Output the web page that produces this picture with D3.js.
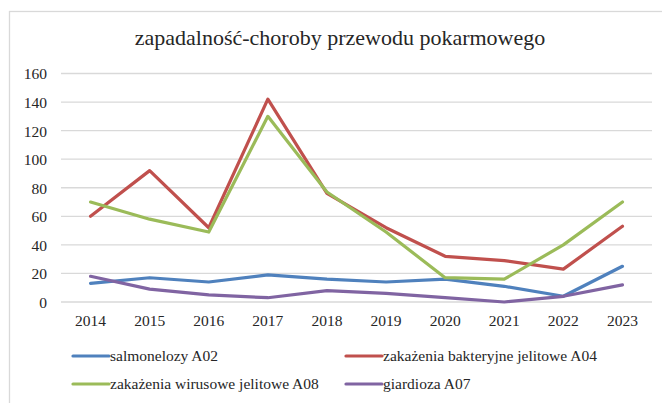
<!DOCTYPE html>
<html>
<head>
<meta charset="utf-8">
<script src="https://cdn.jsdelivr.net/npm/d3@7"></script>
</head>
<body style="margin:0">
<svg id="chart" width="662" height="403"></svg>
<script>
const title = "zapadalność-choroby przewodu pokarmowego";
const years = ["2014","2015","2016","2017","2018","2019","2020","2021","2022","2023"];
const yTicks = [0,20,40,60,80,100,120,140,160];
const seriesNames = ["salmonelozy A02","zakażenia bakteryjne jelitowe A04","zakażenia wirusowe jelitowe A08","giardioza A07"];
const salmonelozy = [13,17,14,19,16,14,16,11,4,25];
const bakteryjne = [60,92,52,142,76,52,32,29,23,53];
const wirusowe = [70,58,49,130,77,49,17,16,40,70];
const giardioza = [18,9,5,3,8,6,3,0,4,12];
const colors = ["#4F81BD","#C0504D","#9BBB59","#8064A2"];

const series = [salmonelozy, bakteryjne, wirusowe, giardioza];
const svg = d3.select("#chart");
const FONT = '"Liberation Serif"';
const TXT = "#262626";

// outer frame
svg.append("rect").attr("x",9.5).attr("y",11.5).attr("width",700).attr("height",420)
  .attr("fill","#fff").attr("stroke","#d9d9d9").attr("stroke-width",1.3);

const pLeft = 61, pRight = 652, pTop = 73.5, pBottom = 302;
const x = d3.scaleBand().domain(years).range([pLeft,pRight]);
const y = d3.scaleLinear().domain([0,160]).range([pBottom,pTop]);

svg.append("text").attr("x",340).attr("y",45).attr("text-anchor","middle")
  .style("font-family",FONT).style("font-size","22px").style("fill",TXT).text(title);

// gridlines
svg.append("g").selectAll("line").data(yTicks).join("line")
  .attr("x1",pLeft).attr("x2",pRight)
  .attr("y1",d=>y(d)).attr("y2",d=>y(d))
  .attr("stroke","#d9d9d9").attr("stroke-width",1.3);

// y axis
const yAxis = d3.axisLeft(y).tickValues(yTicks).tickSize(0).tickPadding(0);
const gy = svg.append("g").attr("transform",`translate(${pLeft-14},0)`).call(yAxis);
gy.select(".domain").remove();
gy.attr("font-family",null).attr("font-size",null);
gy.selectAll("text").style("font-family",FONT).style("font-size","15.5px").style("fill",TXT).attr("dy","0.35em");

// x axis
const xAxis = d3.axisBottom(x).tickSize(0).tickPadding(0);
const gx = svg.append("g").attr("transform",`translate(0,${pBottom+13})`).call(xAxis);
gx.select(".domain").remove();
gx.attr("font-family",null).attr("font-size",null);
gx.selectAll("text").style("font-family",FONT).style("font-size","15.5px").style("fill",TXT).attr("dy","0.71em");

const line = d3.line().x((d,i)=>x(years[i])+x.bandwidth()/2).y(d=>y(d));
svg.append("g").selectAll("path").data(series).join("path")
  .attr("d",d=>line(d)).attr("fill","none")
  .attr("stroke",(d,i)=>colors[i]).attr("stroke-width",3.2)
  .attr("stroke-linejoin","round").attr("stroke-linecap","round");

// legend
const legPos = [[72,356],[345,356],[72,384],[345,384]];
const lg = svg.append("g").selectAll("g").data(seriesNames).join("g")
  .attr("transform",(d,i)=>`translate(${legPos[i][0]},${legPos[i][1]})`);
lg.append("line").attr("x1",1).attr("x2",37).attr("y1",0).attr("y2",0)
  .attr("stroke",(d,i)=>colors[i]).attr("stroke-width",3.2).attr("stroke-linecap","round");
lg.append("text").attr("x",38).attr("y",0).attr("dy","0.35em")
  .style("font-family",FONT).style("font-size","15.5px").style("fill",TXT).text(d=>d);
</script>
</body>
</html>
